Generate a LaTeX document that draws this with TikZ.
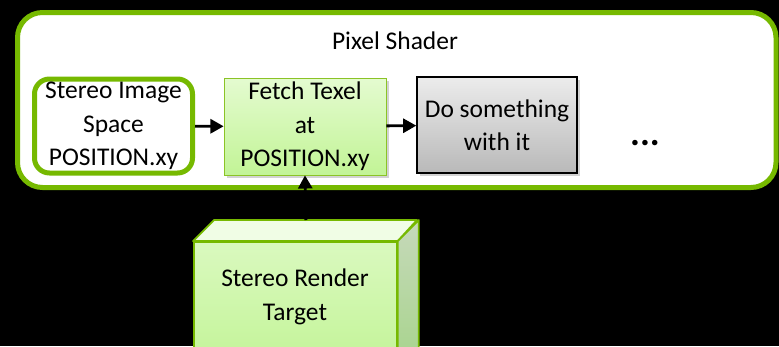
\documentclass[tikz,border=0pt]{standalone}
\usepackage{fontspec}
\setmainfont{Carlito}
\usepackage{xcolor}
\usetikzlibrary{arrows.meta,positioning,calc,shadows}

\definecolor{nvgreen}{HTML}{76B900}
\definecolor{fetchtop}{HTML}{E4FBD0}
\definecolor{fetchbot}{HTML}{C2F496}
\definecolor{sidetop}{HTML}{C6D9BA}
\definecolor{sidebot}{HTML}{A6D48A}

\begin{document}
\begin{tikzpicture}[font=\fontsize{14.5}{19}\selectfont,
  stagebox/.style={draw, minimum width=3.2cm, minimum height=1.92cm,
    align=center, inner sep=1pt,
    drop shadow={shadow xshift=0.05cm, shadow yshift=-0.06cm, opacity=0.35}},
  link/.style={line width=1.6pt, -{Triangle[length=7.5pt,width=8pt]}}]
% black page
\fill[black] (0,0) rectangle (15.58,-6.92);
\useasboundingbox (0,0) rectangle (15.58,-6.92);
\clip (0,0) rectangle (15.58,-6.92);
% pixel shader frame
\draw[nvgreen, line width=0.1cm, fill=white, rounded corners=0.5cm]
  (0.35,-0.25) rectangle (15.52,-3.75);
\node (title) at (7.9,-0.82) {Pixel Shader};
\node[draw=nvgreen, line width=0.1cm, fill=white, rounded corners=0.3cm,
      minimum width=3.16cm, minimum height=1.88cm, align=center, inner sep=1pt]
  (pos) at (2.27,-2.52) {Stereo Image\\Space\\POSITION.xy};
\node[stagebox, draw=nvgreen!85, top color=fetchtop, bottom color=fetchbot,
      minimum width=3.24cm, minimum height=1.94cm]
  (fetch) at (6.10,-2.53) {Fetch Texel\\at\\POSITION.xy};
\node[stagebox, draw=black, line width=0.8pt, top color=gray!15, bottom color=gray!55]
  (work) at (9.94,-2.5) {Do something\\with it};
\node[font=\fontsize{21}{21}\selectfont\bfseries] (more) at (12.9,-2.86) {...};
\draw[link] (pos) -- (fetch);
\draw[link] (fetch) -- (work);
% stereo render target (box)
\node[draw=nvgreen, line width=1pt, top color=fetchtop!70!fetchbot, bottom color=fetchbot,
      minimum width=4.06cm, minimum height=2.6cm, anchor=north west]
  (target) at (3.86,-4.82) {};
\node[align=center] (tlabel) at (5.9,-5.94) {Stereo Render\\Target};
\draw[nvgreen, line width=1pt, fill=fetchtop!55!white, line join=round]
  (target.north west) -- ++(0.42,0.42) -- ++(4.06,0) -- (target.north east) -- cycle;
\draw[nvgreen, line width=1pt, top color=sidetop, bottom color=sidebot, line join=round]
  (target.north east) -- ++(0.42,0.42) -- ++(0,-2.6) -- (target.south east) -- cycle;
\coordinate (ttop) at ($(target.north)+(0.21,0.42)$);
\draw[link] (ttop) -- (fetch.south);
\end{tikzpicture}
\end{document}
